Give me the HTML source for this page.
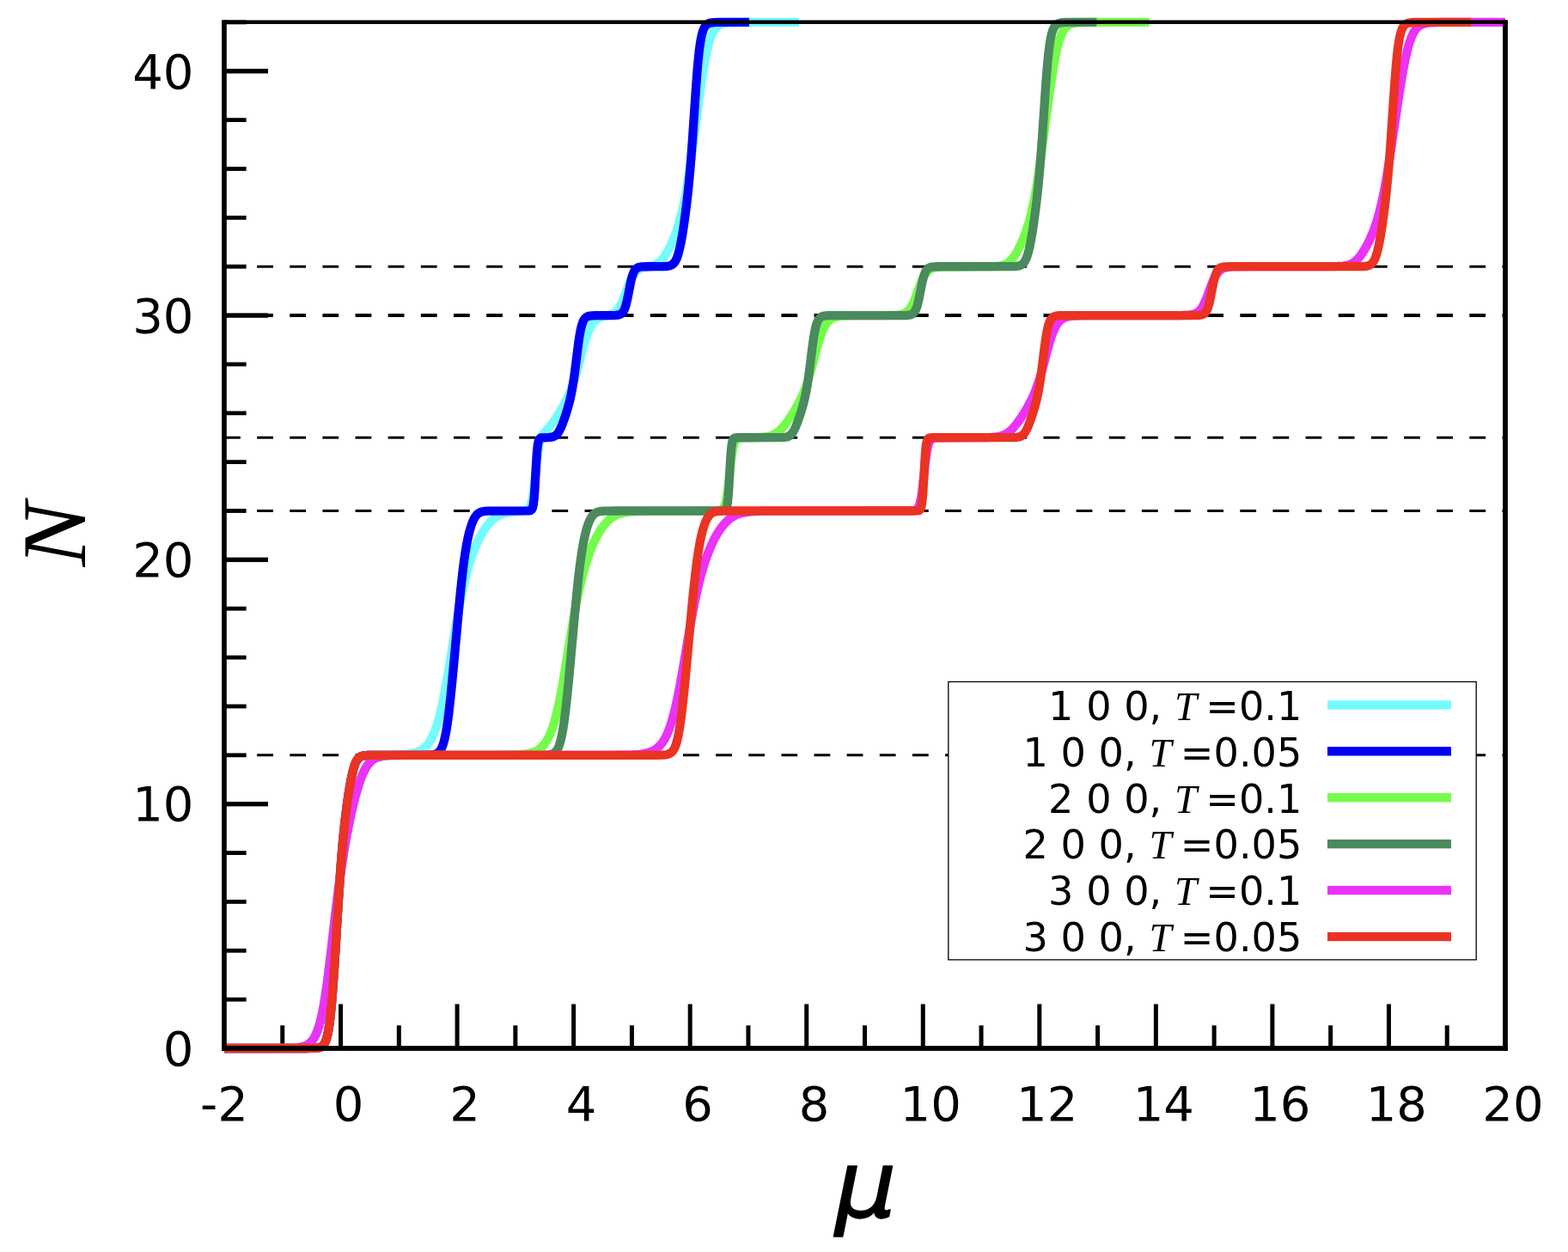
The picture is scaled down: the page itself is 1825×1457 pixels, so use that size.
<!DOCTYPE html>
<html lang="en"><head><meta charset="utf-8"><title>N versus mu</title>
<style>html,body{margin:0;padding:0;background:#fff;}body{width:1825px;height:1457px;overflow:hidden;}svg{display:block;}text{fill:#000;}.tk{font-family:"DejaVu Sans","Liberation Sans",sans-serif;font-size:56px;}.lg{font-family:"DejaVu Sans","Liberation Sans",sans-serif;font-size:46.2px;}.it{font-family:"Liberation Serif","DejaVu Serif",serif;font-style:italic;}.cv{fill:none;stroke-width:10.3;stroke-linejoin:round;stroke-linecap:butt;}.ds{fill:none;stroke:#000;stroke-dasharray:18.8 19.34;}</style></head><body>
<svg width="1825" height="1457" viewBox="0 0 1825 1457" role="img" aria-label="N versus mu">
<rect x="0" y="0" width="1825" height="1457" fill="#fff"/>
<g class="ds">
<line x1="261.00" y1="878.83" x2="1752.00" y2="878.83" stroke-width="3.0"/>
<line x1="261.00" y1="594.52" x2="1752.00" y2="594.52" stroke-width="3.0"/>
<line x1="261.00" y1="509.23" x2="1752.00" y2="509.23" stroke-width="3.0"/>
<line x1="261.00" y1="367.07" x2="1752.00" y2="367.07" stroke-width="4.0"/>
<line x1="261.00" y1="310.21" x2="1752.00" y2="310.21" stroke-width="3.0"/>
</g>
<g fill="#000">
<rect x="261.00" y="1160.74" width="25.60" height="4.80"/>
<rect x="261.00" y="1103.88" width="25.60" height="4.80"/>
<rect x="261.00" y="1047.01" width="25.60" height="4.80"/>
<rect x="261.00" y="990.15" width="25.60" height="4.80"/>
<rect x="261.00" y="932.99" width="51.00" height="5.40"/>
<rect x="261.00" y="876.43" width="25.60" height="4.80"/>
<rect x="261.00" y="819.57" width="25.60" height="4.80"/>
<rect x="261.00" y="762.70" width="25.60" height="4.80"/>
<rect x="261.00" y="705.84" width="25.60" height="4.80"/>
<rect x="261.00" y="648.68" width="51.00" height="5.40"/>
<rect x="261.00" y="592.12" width="25.60" height="4.80"/>
<rect x="261.00" y="535.26" width="25.60" height="4.80"/>
<rect x="261.00" y="478.40" width="25.60" height="4.80"/>
<rect x="261.00" y="421.53" width="25.60" height="4.80"/>
<rect x="261.00" y="364.37" width="51.00" height="5.40"/>
<rect x="261.00" y="307.81" width="25.60" height="4.80"/>
<rect x="261.00" y="250.95" width="25.60" height="4.80"/>
<rect x="261.00" y="194.09" width="25.60" height="4.80"/>
<rect x="261.00" y="137.22" width="25.60" height="4.80"/>
<rect x="261.00" y="80.06" width="51.00" height="5.40"/>
<rect x="261.00" y="23.50" width="25.60" height="4.80"/>
<rect x="326.27" y="1193.30" width="5.00" height="26.70"/>
<rect x="394.05" y="1168.50" width="5.00" height="51.50"/>
<rect x="461.82" y="1193.30" width="5.00" height="26.70"/>
<rect x="529.59" y="1168.50" width="5.00" height="51.50"/>
<rect x="597.36" y="1193.30" width="5.00" height="26.70"/>
<rect x="665.14" y="1168.50" width="5.00" height="51.50"/>
<rect x="732.91" y="1193.30" width="5.00" height="26.70"/>
<rect x="800.68" y="1168.50" width="5.00" height="51.50"/>
<rect x="868.45" y="1193.30" width="5.00" height="26.70"/>
<rect x="936.23" y="1168.50" width="5.00" height="51.50"/>
<rect x="1004.00" y="1193.30" width="5.00" height="26.70"/>
<rect x="1071.77" y="1168.50" width="5.00" height="51.50"/>
<rect x="1139.55" y="1193.30" width="5.00" height="26.70"/>
<rect x="1207.32" y="1168.50" width="5.00" height="51.50"/>
<rect x="1275.09" y="1193.30" width="5.00" height="26.70"/>
<rect x="1342.86" y="1168.50" width="5.00" height="51.50"/>
<rect x="1410.64" y="1193.30" width="5.00" height="26.70"/>
<rect x="1478.41" y="1168.50" width="5.00" height="51.50"/>
<rect x="1546.18" y="1193.30" width="5.00" height="26.70"/>
<rect x="1613.95" y="1168.50" width="5.00" height="51.50"/>
<rect x="1681.73" y="1193.30" width="5.00" height="26.70"/>
</g>
<path class="cv" stroke="#75fbfd" d="M261 1220L313.19 1219.99L329.18 1219.93L335.14 1219.83L339.75 1219.68L343.55 1219.45L346.8 1219.12L350.32 1218.56L351.95 1218.18L353.44 1217.75L354.8 1217.28L356.15 1216.71L357.37 1216.09L358.46 1215.45L359.54 1214.7L360.63 1213.84L361.71 1212.84L362.66 1211.84L364.42 1209.61L365.37 1208.18L366.18 1206.81L367.13 1205.03L367.95 1203.32L369.57 1199.35L371.2 1194.55L372.69 1189.32L374.18 1183.2L375.54 1176.82L377.03 1168.84L378.38 1160.7L380.55 1145.98L382.99 1127.22L385.16 1109.1L390.99 1058.7L392.89 1043.12L394.65 1029.41L396.55 1015.54L398.58 1001.74L400.61 988.99L402.78 976.43L404.95 964.85L407.12 954.13L409.42 943.61L411.73 933.92L414.03 925.06L416.34 917.05L418.64 909.92L420.81 904.04L422.57 899.85L424.33 896.2L426.09 893.05L427.99 890.19L429.89 887.82L430.84 886.81L431.92 885.78L433.96 884.16L435.04 883.44L436.26 882.74L438.43 881.73L440.73 880.93L443.31 880.28L446.16 879.77L449 879.42L452.39 879.14L466.89 878.38L473.26 877.87L476.52 877.46L479.36 876.97L481.94 876.39L484.38 875.67L487.09 874.64L489.53 873.43L491.83 871.98L493.87 870.4L495.76 868.61L497.66 866.46L499.42 864.09L501.19 861.3L503.08 857.76L504.85 853.91L506.61 849.46L508.23 844.77L510 839.01L511.62 833.03L513.25 826.41L514.88 819.13L517.45 806.34L520.3 790.61L523.01 774.48L529.52 734.48L533.18 713.32L535.07 703.16L536.97 693.64L538.73 685.39L540.63 677.16L542.39 670.09L544.29 663.07L546.19 656.61L548.22 650.27L550.25 644.47L552.42 638.81L554.59 633.65L556.9 628.66L559.34 623.87L561.78 619.56L564.35 615.51L566.93 611.94L569.5 608.82L570.86 607.36L572.21 606.02L573.57 604.78L574.92 603.66L576.28 602.64L577.77 601.63L580.48 600.06L583.33 598.75L586.44 597.64L589.83 596.74L592.82 596.16L596.07 595.68L600 595.26L608.4 594.57L610.3 594.31L611.79 593.97L613.15 593.47L614.23 592.84L615.18 592.03L616.13 590.84L616.67 589.94L617.21 588.83L617.76 587.46L618.3 585.81L619.25 582.04L620.2 576.97L621.01 571.48L621.82 564.96L624.67 538.21L626.02 527.09L626.7 522.55L627.51 518.03L628.33 514.43L629.28 511.18L629.95 509.36L630.63 507.85L631.45 506.35L632.39 504.9L634.16 502.68L639.17 497.05L641.88 493.7L645.54 488.71L649.47 482.81L653 477.07L656.12 471.56L658.96 466.08L661.54 460.59L663.57 455.8L665.6 450.52L667.5 445.08L669.26 439.55L670.89 434.05L672.52 428.21L679.02 403.64L680.51 398.44L681.87 394.05L683.22 390.05L684.58 386.47L685.94 383.31L687.43 380.32L688.37 378.66L689.32 377.18L690.27 375.87L691.22 374.71L692.31 373.55L693.39 372.55L694.47 371.69L695.69 370.86L697.86 369.7L700.44 368.7L702.88 367.98L708.98 366.45L710.6 365.95L712.1 365.38L713.72 364.61L715.21 363.71L716.57 362.68L717.79 361.55L719.28 359.86L720.63 357.97L721.99 355.72L723.35 353.08L724.7 350.07L726.06 346.72L731.34 332.25L733.65 326.51L735 323.59L736.36 321.05L737.71 318.89L739.07 317.09L740.56 315.49L742.05 314.22L743.68 313.14L745.58 312.21L747.34 311.57L749.37 311.01L751.4 310.57L757.23 309.49L758.99 309.08L760.62 308.61L762.38 307.97L764.01 307.22L765.5 306.36L766.99 305.32L768.75 303.83L770.38 302.17L772.01 300.23L773.63 298.01L775.4 295.3L777.16 292.27L778.92 288.96L780.68 285.37L783.12 279.93L785.43 274.23L787.59 268.26L789.63 262.01L791.52 255.44L793.29 248.6L794.91 241.55L796.54 233.72L798.03 225.82L799.66 216.42L801.28 206.24L802.91 195.36L806.03 172.96L811.99 127.67L814.43 109.64L816.87 92.71L819.04 79.03L820.4 71.29L821.62 64.92L822.84 59.16L824.06 54L825.28 49.46L826.63 45.09L827.85 41.75L829.21 38.62L830.7 35.81L832.19 33.58L833 32.56L833.82 31.67L834.76 30.78L835.71 30.02L836.66 29.37L837.75 28.75L838.83 28.24L839.91 27.81L841.13 27.43L842.49 27.09L845.47 26.58L848.18 26.31L851.3 26.13L860.25 25.94L929.92 25.9"/>
<path class="cv" stroke="#0000f5" d="M261 1220L355.61 1219.99L362.66 1219.95L366.73 1219.82L369.17 1219.61L371.06 1219.29L372.69 1218.81L374.04 1218.19L375.26 1217.35L376.35 1216.3L377.3 1215.05L378.25 1213.41L379.33 1210.89L380.42 1207.5L381.36 1203.63L382.31 1198.75L383.26 1192.68L384.08 1186.43L385.02 1177.84L385.84 1169.32L387.19 1152.86L388.68 1131.86L390.17 1108.68L393.83 1049.25L396 1016.99L397.22 1000.82L398.44 986.2L399.66 973.07L400.88 961.26L402.37 948.35L404 935.81L405.63 924.58L407.39 913.78L409.02 905.1L410.51 898.36L411.18 895.69L412 892.84L412.81 890.35L413.62 888.22L414.57 886.15L415.52 884.47L416.47 883.14L417.56 881.98L418.77 881.02L419.99 880.34L421.49 879.79L423.25 879.38L424.74 879.18L426.64 879.02L431.92 878.86L491.43 878.81L497.8 878.72L501.86 878.5L504.17 878.21L506.07 877.8L507.69 877.23L509.05 876.54L510.27 875.67L511.49 874.48L512.57 873.07L513.66 871.24L514.88 868.57L516.1 865.08L517.18 861.17L518.27 856.39L519.35 850.68L520.3 844.87L521.38 837.31L522.47 828.82L524.23 813.22L526.26 793.03L528.3 771.29L533.18 717.44L535.62 692.02L536.84 680.22L538.05 669.22L539.14 660.19L540.22 651.93L541.31 644.44L542.53 636.91L543.61 630.98L544.83 625.09L546.05 619.94L547.41 615L548.76 610.77L550.25 606.89L551.47 604.25L552.69 602.07L553.91 600.29L555.27 598.74L556.76 597.46L558.25 596.55L560.01 595.81L562.05 595.27L563.81 594.99L565.84 594.79L568.42 594.65L571.67 594.58L614.91 594.47L616.4 594.34L617.35 594.12L618.16 593.7L618.84 593.03L619.25 592.41L619.65 591.52L620.06 590.29L620.33 589.22L620.74 587.13L621.01 585.34L621.55 580.62L621.96 575.93L622.5 568.05L624.13 538.7L624.8 528.4L625.21 523.59L625.75 518.73L626.16 516.09L626.7 513.61L627.24 512L627.51 511.42L627.92 510.77L628.6 510.08L629.01 509.82L629.55 509.59L630.36 509.4L631.31 509.29L638.36 509.06L640.26 508.91L641.75 508.71L643.24 508.38L644.59 507.92L645.81 507.3L646.9 506.56L647.98 505.58L648.93 504.5L650.02 502.98L650.96 501.41L652.05 499.34L653.13 496.99L654.22 494.41L655.44 491.26L656.79 487.51L658.28 483.12L659.64 478.86L660.99 474.32L662.08 470.4L663.16 466.16L664.93 458.28L666.55 449.53L668.18 438.98L669.53 428.82L672.79 402.59L673.74 395.73L674.68 389.69L675.77 383.94L676.31 381.52L676.99 378.91L677.53 377.11L678.21 375.21L678.89 373.64L679.56 372.35L680.24 371.31L680.92 370.46L681.73 369.66L682.55 369.04L683.5 368.5L684.44 368.11L685.53 367.79L686.75 367.54L689.19 367.28L692.58 367.14L711.28 367.04L716.3 366.9L718.47 366.7L720.09 366.39L721.58 365.91L722.8 365.26L723.62 364.66L724.29 364.01L724.97 363.2L725.51 362.41L726.19 361.23L726.73 360.09L727.82 357.25L728.77 354.08L729.85 349.64L730.94 344.48L733.78 329.93L734.73 325.69L735.54 322.55L736.63 319.12L737.71 316.51L738.26 315.47L738.93 314.39L739.48 313.68L740.15 312.95L741.37 311.99L742.05 311.6L742.86 311.25L744.63 310.76L746.79 310.46L748.96 310.32L751.95 310.25L766.99 310.19L771.87 310.11L775.67 309.91L778.38 309.52L779.73 309.18L780.95 308.72L782.04 308.17L782.99 307.52L783.93 306.68L784.75 305.77L785.56 304.66L786.37 303.3L787.19 301.67L788 299.72L788.81 297.44L789.49 295.26L790.98 289.55L792.61 281.88L794.24 272.8L796 261.53L797.76 248.83L799.39 235.73L800.74 223.62L801.96 211.56L803.18 198.21L804.27 185.13L806.16 159.44L810.23 99.31L811.31 85L812.4 72.43L813.62 60.64L814.3 55.17L814.97 50.42L815.65 46.35L816.33 42.88L817.01 39.95L817.82 37.05L818.63 34.72L819.45 32.86L820.4 31.16L821.48 29.71L822.56 28.65L823.92 27.73L825.41 27.07L827.17 26.58L828.66 26.33L830.56 26.14L835.71 25.95L871.9 25.9"/>
<path class="cv" stroke="#75fb4c" d="M261 1220L314 1219.99L329.99 1219.92L335.96 1219.81L340.57 1219.64L344.36 1219.38L347.61 1219.02L351.14 1218.38L352.76 1217.96L354.26 1217.48L355.61 1216.95L356.97 1216.31L358.19 1215.62L359.27 1214.9L360.35 1214.07L361.44 1213.11L362.52 1211.99L363.47 1210.88L364.42 1209.61L365.23 1208.4L366.18 1206.81L367 1205.29L368.62 1201.76L370.11 1197.85L371.61 1193.21L372.96 1188.28L374.32 1182.6L375.67 1176.13L377.03 1168.84L378.38 1160.7L380.55 1145.98L382.86 1128.31L385.02 1110.26L391.39 1055.3L393.56 1037.76L395.6 1022.36L397.9 1006.22L400.34 990.63L402.92 975.68L405.49 962.09L406.98 954.78L408.61 947.23L410.1 940.67L411.73 933.92L413.35 927.58L414.84 922.14L416.34 917.05L417.83 912.34L419.32 908L420.81 904.04L422.3 900.47L423.79 897.27L425.28 894.45L426.77 891.97L428.4 889.65L430.03 887.68L430.97 886.69L432.06 885.67L433.14 884.77L434.23 883.98L435.31 883.29L436.53 882.62L438.97 881.55L441.82 880.67L444.94 880.02L448.59 879.54L452.93 879.21L460.52 878.96L472.18 878.85L563.94 878.82L584.68 878.75L592.27 878.66L598.37 878.5L603.39 878.27L607.59 877.96L611.66 877.5L615.18 876.91L618.3 876.16L621.14 875.24L623.72 874.14L626.16 872.79L628.46 871.18L630.5 869.42L631.85 868.03L633.21 866.46L634.43 864.86L635.65 863.07L636.87 861.06L637.95 859.09L639.04 856.92L640.12 854.54L641.21 851.94L642.29 849.09L644.32 843.08L646.36 836.1L648.39 828.13L649.88 821.63L651.51 813.93L653.13 805.62L654.9 796.01L658.01 777.77L665.87 729.63L668.18 716.34L670.35 704.57L672.79 692.33L675.09 681.78L677.53 671.67L679.97 662.59L682.55 654.01L685.26 645.97L686.61 642.29L688.1 638.48L689.59 634.9L691.09 631.54L692.58 628.38L694.2 625.15L695.69 622.38L697.32 619.56L698.95 616.95L700.57 614.52L702.2 612.29L703.96 610.08L705.32 608.52L706.81 606.95L708.16 605.64L709.66 604.32L711.15 603.14L712.64 602.07L714.26 601.04L715.89 600.13L717.52 599.34L719.14 598.64L720.91 598L722.8 597.4L724.84 596.88L726.87 596.44L731.34 595.74L735.54 595.31L740.42 594.99L746.25 594.78L753.57 594.64L770.11 594.54L825.82 594.52L832.6 594.46L835.31 594.34L837.2 594.1L838.83 593.66L840.05 593.05L840.86 592.43L841.68 591.55L842.35 590.56L843.03 589.26L843.71 587.57L844.25 585.87L844.79 583.82L845.34 581.36L846.29 575.98L847.23 569.17L848.18 561.11L850.62 538.66L851.44 532.15L852.11 527.47L852.93 522.83L853.88 518.68L854.82 515.68L855.37 514.38L855.91 513.33L856.45 512.49L856.99 511.81L857.54 511.27L858.21 510.75L858.89 510.36L859.7 510.02L860.65 509.74L861.6 509.56L863.23 509.38L865.4 509.28L880.04 509.08L883.97 508.95L887.22 508.76L890.34 508.46L893.05 508.06L895.49 507.53L897.66 506.89L899.83 506.05L901.99 504.97L904.03 503.7L905.93 502.28L907.96 500.5L909.99 498.46L912.02 496.17L914.19 493.5L916.9 489.85L919.89 485.51L922.87 480.87L925.71 476.14L928.29 471.56L930.59 467.16L932.76 462.68L934.8 458.09L936.56 453.75L938.32 449.02L940.08 443.85L941.71 438.66L944.69 428.21L949.71 409.15L951.6 402.19L953.5 395.77L955.4 390.06L956.62 386.82L957.7 384.23L958.92 381.63L960.14 379.37L961.36 377.41L962.72 375.55L964.07 374L965.43 372.71L966.79 371.65L968.28 370.7L969.77 369.95L971.39 369.29L973.16 368.75L975.05 368.31L977.22 367.94L979.66 367.66L984.81 367.33L991.73 367.15L1030.36 367.04L1036.18 366.97L1040.39 366.84L1044.59 366.54L1047.98 366.05L1049.33 365.75L1050.69 365.36L1051.91 364.91L1053.13 364.35L1054.35 363.66L1055.57 362.8L1056.65 361.88L1057.74 360.78L1058.82 359.49L1059.77 358.17L1060.85 356.45L1061.8 354.74L1063.43 351.38L1065.19 347.15L1066.68 343.21L1070.48 332.73L1072.38 327.89L1073.46 325.4L1074.41 323.42L1075.36 321.62L1076.31 320.01L1077.25 318.59L1078.34 317.18L1079.42 315.97L1080.64 314.84L1081.86 313.92L1083.08 313.17L1084.44 312.5L1085.93 311.94L1088.23 311.32L1090.94 310.87L1094.2 310.56L1098.4 310.36L1108.57 310.23L1148.82 310.15L1155.6 310.01L1160.48 309.73L1163.06 309.44L1165.22 309.07L1167.26 308.58L1169.15 307.94L1170.92 307.16L1172.54 306.23L1174.03 305.19L1175.53 303.93L1177.29 302.16L1178.91 300.22L1180.68 297.81L1182.44 295.07L1184.2 292.03L1185.96 288.69L1187.86 284.79L1189.62 280.87L1191.25 276.98L1192.88 272.79L1194.37 268.65L1195.86 264.17L1197.21 259.75L1198.57 254.95L1199.79 250.25L1201.01 245.17L1203.04 235.75L1204.94 225.82L1206.84 214.78L1208.87 201.79L1210.63 189.69L1212.53 175.98L1219.17 125.63L1221.61 107.69L1224.19 90.03L1226.49 75.85L1227.85 68.39L1229.2 61.64L1230.42 56.22L1231.78 50.9L1233.13 46.33L1234.49 42.45L1235.98 38.91L1237.47 36.04L1238.96 33.76L1240.45 31.96L1242.08 30.44L1243.84 29.2L1244.79 28.68L1245.87 28.18L1248.04 27.43L1250.62 26.85L1253.6 26.44L1256.31 26.23L1259.43 26.08L1268.37 25.93L1337.64 25.9"/>
<path class="cv" stroke="#4a8a5c" d="M261 1220L355.75 1219.99L362.79 1219.95L366.86 1219.81L369.3 1219.59L371.2 1219.26L372.83 1218.76L374.18 1218.11L374.86 1217.67L375.54 1217.12L376.62 1215.98L377.57 1214.63L378.52 1212.85L379.6 1210.13L380.55 1207L381.5 1203L382.45 1197.95L383.4 1191.71L384.21 1185.29L385.02 1177.84L385.84 1169.32L387.19 1152.86L388.68 1131.86L390.17 1108.68L393.97 1047.12L395.19 1028.61L396.41 1011.43L397.77 994.13L399.12 978.73L400.48 965.06L401.97 951.73L403.86 936.8L405.9 922.82L407.93 910.74L409.02 905.1L409.96 900.67L410.91 896.73L411.73 893.75L412.68 890.74L413.62 888.22L414.57 886.15L415.52 884.47L416.61 882.98L417.69 881.85L418.77 881.02L419.86 880.41L421.08 879.91L422.43 879.54L423.93 879.28L425.82 879.08L428.13 878.95L431.11 878.88L443.85 878.83L620.47 878.83L629.28 878.79L634.16 878.69L637.14 878.52L639.44 878.26L641.34 877.87L642.97 877.35L644.46 876.62L645.68 875.78L646.9 874.63L647.98 873.27L648.66 872.21L649.34 870.98L650.02 869.54L650.69 867.87L651.91 864.18L653.13 859.48L654.35 853.65L655.44 847.45L656.52 840.26L657.61 832.11L659.5 815.75L661.67 794.43L663.71 772.77L668.99 714.52L671.7 686.68L673.06 674L674.41 662.38L675.77 651.93L677.12 642.68L678.62 633.86L680.11 626.33L681.73 619.41L682.55 616.4L683.5 613.22L684.31 610.77L685.26 608.21L686.07 606.26L687.02 604.25L687.97 602.52L688.92 601.03L689.87 599.78L690.95 598.61L692.03 597.67L693.25 596.84L694.61 596.17L696.1 595.64L697.73 595.25L699.63 594.96L701.79 594.76L704.64 594.63L709.38 594.55L717.65 594.52L838.42 594.51L840.59 594.48L841.95 594.38L842.9 594.19L843.71 593.84L844.25 593.43L844.79 592.78L845.2 592.05L845.61 591.03L846.01 589.6L846.29 588.37L846.96 583.95L847.51 578.67L848.05 571.55L848.59 562.7L850.08 535.7L850.62 527.82L851.03 523.12L851.57 518.4L851.84 516.62L852.25 514.52L852.52 513.45L852.93 512.22L853.33 511.34L853.88 510.55L854.55 509.96L855.37 509.58L856.45 509.36L858.08 509.26L905.79 509.2L910.94 509.08L912.84 508.94L914.33 508.76L916.09 508.38L917.58 507.86L918.94 507.14L920.16 506.22L921.38 504.99L922.46 503.59L923.55 501.88L924.77 499.61L926.26 496.37L927.75 492.69L929.37 488.28L931.14 483.12L932.76 477.98L934.25 472.88L935.47 468.33L936.69 463.29L937.78 458.28L938.73 453.38L939.68 447.9L940.49 442.71L942.12 430.93L944.96 407.87L946.05 399.56L947.13 392.17L948.22 385.95L948.89 382.69L949.57 379.9L950.25 377.54L951.06 375.21L951.88 373.36L952.69 371.91L953.64 370.61L954.72 369.54L955.53 368.95L956.35 368.5L957.3 368.11L958.38 367.79L959.6 367.54L960.96 367.37L964.48 367.16L973.7 367.08L1050.28 367.05L1053.67 366.99L1056.11 366.87L1058.01 366.66L1059.63 366.33L1060.72 365.98L1061.8 365.46L1062.75 364.81L1063.56 364.06L1064.38 363.08L1065.06 362.04L1065.73 360.78L1066.41 359.23L1067.09 357.39L1067.63 355.67L1068.85 351.02L1070.07 345.38L1073.32 328.87L1074.41 324.23L1075.49 320.44L1076.17 318.51L1076.85 316.89L1077.53 315.55L1078.2 314.46L1078.88 313.57L1079.69 312.74L1080.64 312.02L1081.59 311.49L1083.22 310.92L1085.12 310.57L1087.56 310.35L1091.08 310.25L1170.37 310.2L1176.61 310.16L1180.54 310.05L1182.71 309.89L1184.47 309.67L1185.96 309.36L1187.32 308.94L1188.54 308.39L1189.62 307.72L1190.57 306.94L1191.52 305.94L1192.47 304.66L1193.42 303.05L1194.37 301.05L1195.18 299L1195.99 296.6L1196.81 293.83L1197.62 290.68L1198.43 287.15L1199.25 283.26L1200.19 278.26L1201.96 267.78L1203.85 254.87L1205.62 241.36L1207.11 228.61L1208.46 215.71L1209.68 202.82L1210.9 188.51L1212.94 161.38L1217.14 99.31L1218.22 85L1219.31 72.43L1220.53 60.64L1221.75 51.32L1222.42 47.11L1223.1 43.53L1223.78 40.5L1224.59 37.49L1225.41 35.07L1226.22 33.14L1227.17 31.37L1228.25 29.87L1229.34 28.77L1230.69 27.81L1232.18 27.11L1233.81 26.64L1235.3 26.37L1237.2 26.16L1242.21 25.96L1276.3 25.9"/>
<path class="cv" stroke="#ea33f7" d="M261 1220L314 1219.99L329.99 1219.92L335.96 1219.81L340.57 1219.64L344.36 1219.38L347.61 1219.02L351.14 1218.38L352.76 1217.96L354.26 1217.48L355.61 1216.95L356.97 1216.31L358.19 1215.62L359.27 1214.9L360.35 1214.07L361.44 1213.11L362.52 1211.99L363.47 1210.88L364.42 1209.61L365.23 1208.4L366.18 1206.81L367 1205.29L368.62 1201.76L370.11 1197.85L371.61 1193.21L372.96 1188.28L374.32 1182.6L375.67 1176.13L377.03 1168.84L378.38 1160.7L380.42 1146.95L382.72 1129.4L385.02 1110.26L391.53 1054.18L393.7 1036.7L395.87 1020.38L398.31 1003.52L400.88 987.36L403.59 971.98L406.44 957.39L408.07 949.7L409.69 942.43L411.46 935.02L413.08 928.61L414.71 922.62L416.34 917.05L417.96 911.93L419.59 907.25L421.08 903.36L422.71 899.56L424.33 896.2L425.96 893.28L427.59 890.76L429.21 888.62L430.97 886.69L432.87 884.99L433.96 884.17L435.04 883.46L437.34 882.22L439.92 881.22L442.77 880.44L445.88 879.87L449.54 879.45L453.88 879.16L459.44 878.98L468.38 878.87L483.57 878.83L705.05 878.81L723.21 878.71L734.46 878.45L739.75 878.18L744.22 877.8L748.15 877.3L751.67 876.65L754.79 875.84L757.64 874.85L760.21 873.69L762.65 872.28L764.42 871.04L766.04 869.69L767.53 868.26L769.02 866.62L770.52 864.75L771.87 862.81L773.23 860.63L774.45 858.44L775.67 856.02L776.89 853.34L778.11 850.39L779.33 847.16L780.55 843.62L781.63 840.21L782.85 836.06L783.93 832.1L785.7 825.08L787.46 817.36L789.36 808.3L791.25 798.52L794.78 778.84L801.01 741.94L803.45 727.85L806.03 713.7L808.47 701.2L811.18 688.47L813.89 677L815.25 671.73L816.74 666.27L818.09 661.6L819.58 656.77L821.07 652.23L822.56 647.97L824.19 643.61L825.82 639.53L827.44 635.72L829.21 631.86L830.97 628.26L832.73 624.91L834.49 621.8L836.39 618.69L838.15 616.04L840.05 613.41L841.95 611.02L843.85 608.86L845.74 606.91L847.78 605.06L849.27 603.85L850.76 602.76L852.25 601.77L853.88 600.81L855.5 599.96L857.26 599.16L859.03 598.46L860.79 597.86L862.69 597.31L864.58 596.85L868.92 596.05L873.8 595.46L879.63 595.04L884.64 594.84L890.61 594.69L907.82 594.55L1056.38 594.5L1059.9 594.43L1062.21 594.28L1063.97 594L1065.33 593.59L1066.28 593.11L1067.22 592.39L1068.04 591.49L1068.85 590.25L1069.53 588.85L1070.21 587.04L1070.88 584.72L1071.43 582.44L1071.97 579.73L1072.51 576.56L1073.46 569.88L1074.41 561.93L1076.98 538.28L1077.8 531.81L1078.61 526.35L1079.56 521.31L1080.1 519.02L1080.64 517.12L1081.19 515.56L1081.73 514.29L1082.27 513.26L1082.95 512.25L1083.63 511.49L1084.3 510.91L1084.98 510.48L1085.79 510.11L1086.74 509.81L1087.69 509.61L1090.4 509.34L1096.37 509.23L1132.96 509.22L1145.03 509.15L1153.43 508.92L1156.55 508.73L1159.26 508.46L1161.97 508.06L1164.41 507.53L1166.71 506.85L1168.75 506.05L1170.78 505.04L1172.68 503.88L1174.58 502.49L1176.47 500.87L1177.83 499.58L1179.32 498.02L1182.3 494.53L1185.56 490.23L1188.94 485.31L1192.47 479.77L1195.86 474.01L1198.84 468.49L1201.55 462.97L1203.85 457.77L1205.89 452.7L1207.92 447.08L1209.82 441.3L1211.44 435.93L1213.21 429.7L1218.9 408.13L1220.93 400.77L1223.1 393.64L1224.19 390.44L1225.27 387.51L1226.63 384.23L1227.98 381.37L1229.34 378.91L1230.69 376.82L1232.18 374.9L1233.81 373.2L1235.44 371.85L1237.2 370.7L1238.82 369.89L1240.45 369.25L1242.35 368.68L1244.38 368.23L1246.55 367.89L1249.13 367.61L1252.11 367.4L1255.5 367.26L1262 367.14L1272.17 367.08L1371.12 367.03L1376.81 366.93L1380.88 366.76L1384.13 366.49L1386.84 366.09L1388.74 365.65L1390.5 365.09L1391.99 364.44L1393.48 363.6L1394.84 362.62L1396.06 361.53L1397.28 360.21L1398.5 358.63L1399.58 356.98L1400.67 355.08L1401.75 352.94L1402.97 350.24L1405.14 344.8L1409.07 333.95L1410.83 329.33L1412.73 324.91L1413.68 322.97L1414.63 321.22L1415.71 319.45L1416.8 317.91L1418.02 316.45L1419.24 315.24L1420.59 314.14L1421.95 313.27L1423.44 312.52L1425.06 311.91L1426.42 311.52L1427.78 311.22L1431.16 310.73L1435.37 310.44L1441.06 310.28L1455.16 310.21L1540.82 310.19L1550.58 310.12L1556.95 309.96L1560.2 309.78L1563.05 309.52L1565.49 309.19L1567.79 308.73L1569.83 308.17L1571.72 307.48L1573.49 306.67L1575.25 305.65L1577.28 304.19L1579.32 302.39L1581.21 300.39L1583.25 297.9L1585.28 295.07L1587.31 291.9L1589.35 288.43L1591.51 284.38L1593.55 280.27L1595.58 275.83L1597.48 271.32L1599.24 266.78L1600.87 262.23L1602.49 257.25L1603.98 252.28L1605.48 246.85L1607.78 237.47L1609.95 227.45L1612.12 216.26L1614.42 203.14L1616.45 190.65L1618.62 176.58L1626.08 125.73L1628.92 106.92L1631.77 89.41L1633.13 81.72L1634.35 75.23L1635.84 67.89L1637.33 61.26L1638.68 55.88L1640.18 50.66L1641.67 46.16L1643.16 42.34L1644.65 39.14L1646.27 36.28L1647.9 33.98L1649.53 32.16L1651.29 30.63L1652.24 29.96L1653.32 29.3L1655.49 28.28L1657.93 27.49L1660.64 26.91L1663.9 26.49L1666.74 26.26L1670.27 26.1L1679.89 25.94L1752 25.9"/>
<path class="cv" stroke="#ea3323" d="M261 1220L355.75 1219.99L362.79 1219.95L366.86 1219.81L369.3 1219.59L371.2 1219.26L372.83 1218.76L374.18 1218.11L374.86 1217.67L375.54 1217.12L376.62 1215.98L377.57 1214.63L378.52 1212.85L379.6 1210.13L380.55 1207L381.5 1203L382.45 1197.95L383.4 1191.71L384.21 1185.29L385.02 1177.84L385.84 1169.32L387.19 1152.86L388.68 1131.86L390.17 1108.68L393.97 1047.12L395.19 1028.61L396.41 1011.43L397.77 994.13L399.12 978.73L400.48 965.06L401.97 951.73L403.86 936.8L405.9 922.82L407.93 910.74L409.02 905.1L409.96 900.67L410.91 896.73L411.73 893.75L412.68 890.74L413.62 888.22L414.57 886.15L415.66 884.26L416.74 882.82L417.96 881.62L418.91 880.93L419.99 880.34L421.21 879.87L422.57 879.51L424.06 879.26L425.96 879.07L431.11 878.88L444.39 878.83L763.74 878.8L770.52 878.66L772.82 878.51L774.72 878.3L776.48 877.97L777.97 877.55L779.19 877.05L780.41 876.37L781.36 875.67L782.31 874.77L783.26 873.64L784.07 872.44L784.88 870.98L785.56 869.54L786.37 867.5L787.05 865.51L787.73 863.23L788.41 860.62L789.63 855.05L790.98 847.45L792.2 839.29L793.29 831.02L794.37 821.87L796.68 799.97L798.98 775.72L804.67 713.07L806.3 696.1L807.65 682.78L809.15 669.22L810.5 658.05L811.86 648.08L813.21 639.32L814.7 630.98L816.19 623.89L817.82 617.37L819.45 611.97L820.26 609.64L821.21 607.21L822.02 605.37L822.97 603.48L823.92 601.85L824.87 600.47L825.82 599.31L826.77 598.35L827.99 597.37L829.34 596.55L830.7 595.95L832.32 595.45L834.09 595.1L836.25 594.85L838.83 594.68L842.22 594.58L857.13 594.52L1063.7 594.52L1067.63 594.44L1068.72 594.31L1069.53 594.08L1070.21 593.73L1070.75 593.25L1071.29 592.49L1071.7 591.64L1072.1 590.45L1072.51 588.81L1073.19 584.67L1073.87 578.14L1074.41 570.87L1076.44 534.98L1076.98 527.24L1077.39 522.66L1078.07 517.17L1078.34 515.61L1078.75 513.78L1079.15 512.46L1079.69 511.26L1080.24 510.5L1080.78 510.02L1081.46 509.66L1082.41 509.42L1083.63 509.29L1085.66 509.24L1171.59 509.22L1177.97 509.18L1181.62 509.05L1183.66 508.88L1185.42 508.61L1186.91 508.22L1188.27 507.67L1189.49 506.96L1190.57 506.1L1191.66 504.99L1192.74 503.59L1194.23 501.17L1195.72 498.2L1197.35 494.41L1199.11 489.79L1201.14 483.94L1203.04 477.98L1204.67 472.39L1206.16 466.71L1207.38 461.48L1208.46 456.25L1209.55 450.33L1210.5 444.49L1211.44 438.02L1212.39 430.93L1215.24 407.87L1216.32 399.56L1217.54 391.33L1218.76 384.59L1219.44 381.52L1220.26 378.43L1221.07 375.93L1222.02 373.64L1222.97 371.91L1223.91 370.61L1225 369.54L1226.22 368.71L1227.03 368.32L1227.98 367.97L1229.07 367.69L1230.29 367.48L1233.13 367.23L1237.47 367.11L1386.43 367.06L1393.48 366.96L1395.65 366.83L1397.28 366.63L1398.63 366.35L1399.85 365.94L1400.94 365.4L1401.89 364.73L1402.83 363.81L1403.65 362.76L1404.46 361.4L1405.14 359.99L1405.82 358.29L1406.49 356.27L1407.17 353.91L1407.85 351.21L1409.07 345.6L1411.51 333.03L1412.46 328.45L1413.68 323.37L1414.76 319.76L1415.44 317.94L1416.12 316.41L1416.93 314.94L1417.74 313.79L1418.69 312.78L1419.64 312.05L1420.73 311.45L1421.95 311.01L1423.57 310.65L1425.74 310.41L1428.59 310.28L1432.93 310.22L1571.18 310.21L1582.97 310.15L1587.58 309.98L1589.21 309.84L1590.7 309.62L1592.06 309.33L1593.14 308.99L1594.23 308.53L1595.17 308L1596.39 307.06L1597.48 305.94L1598.56 304.45L1599.51 302.79L1600.46 300.73L1601.27 298.62L1602.22 295.72L1603.04 292.82L1603.85 289.55L1604.8 285.25L1606.56 275.97L1608.46 264.26L1610.36 250.88L1611.98 238.02L1613.61 223.62L1615.1 208.72L1616.45 193.45L1617.54 179.91L1618.76 163.31L1622.15 112.91L1623.37 95.59L1624.59 80.07L1625.67 68.22L1626.35 61.83L1627.03 56.21L1627.7 51.32L1628.52 46.35L1629.2 42.88L1630.01 39.42L1630.82 36.63L1631.77 34.05L1632.72 32.07L1633.67 30.56L1634.75 29.27L1635.84 28.34L1637.06 27.59L1638.55 26.97L1640.31 26.53L1642.34 26.24L1646.14 26.01L1652.37 25.92L1712.01 25.9"/>
<g fill="#000">
<rect x="258.05" y="23.50" width="5.75" height="1199.40"/>
<rect x="1749.10" y="23.50" width="5.80" height="1199.40"/>
<rect x="258.05" y="23.50" width="1496.85" height="4.45"/>
<rect x="258.05" y="1217.10" width="1496.85" height="5.80"/>
</g>
<g class="tk">
<text x="225.50" y="1239.80" text-anchor="end">0</text>
<text x="225.50" y="955.49" text-anchor="end">10</text>
<text x="225.50" y="671.18" text-anchor="end">20</text>
<text x="225.50" y="386.87" text-anchor="end">30</text>
<text x="225.50" y="102.56" text-anchor="end">40</text>
<text x="261.00" y="1304.40" text-anchor="middle">-2</text>
<text x="405.45" y="1304.40" text-anchor="middle">0</text>
<text x="540.99" y="1304.40" text-anchor="middle">2</text>
<text x="676.54" y="1304.40" text-anchor="middle">4</text>
<text x="812.08" y="1304.40" text-anchor="middle">6</text>
<text x="947.63" y="1304.40" text-anchor="middle">8</text>
<text x="1083.17" y="1304.40" text-anchor="middle">10</text>
<text x="1218.72" y="1304.40" text-anchor="middle">12</text>
<text x="1354.26" y="1304.40" text-anchor="middle">14</text>
<text x="1489.81" y="1304.40" text-anchor="middle">16</text>
<text x="1625.35" y="1304.40" text-anchor="middle">18</text>
<text x="1760.90" y="1304.40" text-anchor="middle">20</text>
</g>
<text class="it" font-size="100" text-anchor="middle" transform="translate(99.00 622.00) rotate(-90) scale(1.125 1.065)">N</text>
<text font-family="&quot;DejaVu Sans&quot;,&quot;Liberation Sans&quot;,sans-serif" font-style="italic" font-size="109" stroke="#000" stroke-width="1.5" stroke-linejoin="round" transform="translate(972.00 1415.60) scale(1.03 1)">μ</text>
<rect x="1103.80" y="793.40" width="614.40" height="323.50" fill="#fff" stroke="#000" stroke-width="1.3"/>
<text class="lg" y="838.20"><tspan x="1366.99" text-anchor="end">1 0 0, </tspan><tspan class="it" font-size="47" x="1367.00">T </tspan><tspan x="1515.40" text-anchor="end">=0.1</tspan></text>
<rect x="1545.00" y="815.20" width="144.00" height="10.40" fill="#75fbfd"/>
<text class="lg" y="891.92"><tspan x="1337.39" text-anchor="end">1 0 0, </tspan><tspan class="it" font-size="47" x="1337.40">T </tspan><tspan x="1515.40" text-anchor="end">=0.05</tspan></text>
<rect x="1545.00" y="869.12" width="144.00" height="10.40" fill="#0000f5"/>
<text class="lg" y="945.64"><tspan x="1366.99" text-anchor="end">2 0 0, </tspan><tspan class="it" font-size="47" x="1367.00">T </tspan><tspan x="1515.40" text-anchor="end">=0.1</tspan></text>
<rect x="1545.00" y="923.04" width="144.00" height="10.40" fill="#75fb4c"/>
<text class="lg" y="999.36"><tspan x="1337.39" text-anchor="end">2 0 0, </tspan><tspan class="it" font-size="47" x="1337.40">T </tspan><tspan x="1515.40" text-anchor="end">=0.05</tspan></text>
<rect x="1545.00" y="976.96" width="144.00" height="10.40" fill="#4a8a5c"/>
<text class="lg" y="1053.08"><tspan x="1366.99" text-anchor="end">3 0 0, </tspan><tspan class="it" font-size="47" x="1367.00">T </tspan><tspan x="1515.40" text-anchor="end">=0.1</tspan></text>
<rect x="1545.00" y="1030.88" width="144.00" height="10.40" fill="#ea33f7"/>
<text class="lg" y="1106.80"><tspan x="1337.39" text-anchor="end">3 0 0, </tspan><tspan class="it" font-size="47" x="1337.40">T </tspan><tspan x="1515.40" text-anchor="end">=0.05</tspan></text>
<rect x="1545.00" y="1084.80" width="144.00" height="10.40" fill="#ea3323"/>
</svg></body></html>
